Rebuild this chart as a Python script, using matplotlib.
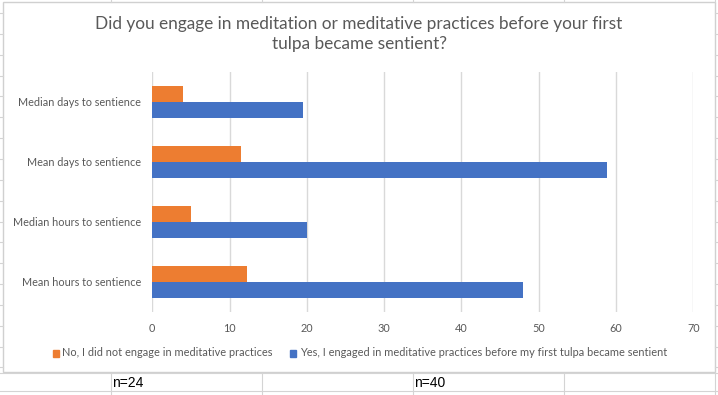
import matplotlib
matplotlib.use("Agg")
import matplotlib.pyplot as plt
from matplotlib.patches import Rectangle
from matplotlib.lines import Line2D

categories = ["Median days to sentience", "Mean days to sentience",
              "Median hours to sentience", "Mean hours to sentience"]
no_values = [4, 11.5, 5, 12.25]
yes_values = [19.5, 58.8, 20, 48]
series_names = ["No, I did not engage in meditative practices",
                "Yes, I engaged in meditative practices before my first tulpa became sentient"]
x_ticks = [0, 10, 20, 30, 40, 50, 60, 70]
title = "Did you engage in meditation or meditative practices before your first\ntulpa became sentient?"
cell_notes = ["n=24", "n=40"]

W, H = 718, 395
plt.rcParams['font.family'] = ['Lato', 'DejaVu Sans']
fig = plt.figure(figsize=(W / 100, H / 100), dpi=100)
fig.patch.set_facecolor("white")

def fx(px):
    return px / W

def fy(py):
    return 1 - py / H

# Spreadsheet background grid lines (outside chart)
grid_c = "#d4d4d4"
row_ys = [13 + 20.85 * k for k in range(18)]
for y in row_ys:
    fig.add_artist(Line2D([0, fx(3)], [fy(y), fy(y)], color=grid_c, lw=0.8))
    fig.add_artist(Line2D([fx(715), 1], [fy(y), fy(y)], color=grid_c, lw=0.8))
for y in [373, 391]:
    fig.add_artist(Line2D([0, 1], [fy(y), fy(y)], color=grid_c, lw=0.8))
for x in [110.5, 262, 412.5, 563.5, 715]:
    fig.add_artist(Line2D([fx(x), fx(x)], [fy(373), 0], color=grid_c, lw=0.8))
    fig.add_artist(Line2D([fx(x), fx(x)], [1, fy(1.5)], color=grid_c, lw=0.8))

# Chart border
fig.add_artist(Rectangle((fx(3), fy(372)), fx(712), 370 / H, fill=False,
                         edgecolor="#d0d0d0", lw=1.0))

# Axes
left, right, top, bottom = 152.3, 693.4, 72, 312
ax = fig.add_axes([fx(left), fy(bottom), fx(right - left), (bottom - top) / H])
n = len(categories)
pos = list(range(n))
h = 16 / 60
ax.barh([p - h / 2 for p in pos], no_values, height=h, color="#ed7d31", zorder=3)
ax.barh([p + h / 2 for p in pos], yes_values, height=h, color="#4472c4", zorder=3)
ax.set_ylim(n - 0.5, -0.5)
ax.set_xlim(0, 70)
ax.set_xticks(x_ticks)
ax.set_yticks(pos)
ax.set_yticklabels(categories)
ax.grid(axis="x", color="#d9d9d9", lw=1.0, zorder=0)
ax.set_axisbelow(True)
for s in ax.spines.values():
    s.set_visible(False)
ax.tick_params(axis="both", length=0, labelsize=7.8, labelcolor="#595959")
ax.tick_params(axis="y", pad=8)
ax.tick_params(axis="x", pad=8)

# Title
fig.text(fx(359), fy(34), title, ha="center", va="center", fontsize=12.4,
         color="#595959", linespacing=1.3)

# Legend (manual)
ly = 353
fig.add_artist(Rectangle((fx(53), fy(ly + 3.5)), fx(6), 7 / H, color="#ed7d31"))
fig.text(fx(62), fy(ly), series_names[0], ha="left", va="center", fontsize=7.9, color="#595959")
fig.add_artist(Rectangle((fx(290), fy(ly + 3.5)), fx(6), 7 / H, color="#4472c4"))
fig.text(fx(300), fy(ly), series_names[1], ha="left", va="center", fontsize=7.9, color="#595959")

# Cell notes
fig.text(fx(112), fy(383), cell_notes[0], ha="left", va="center", fontsize=10, color="black",
         family=["Liberation Sans", "DejaVu Sans"])
fig.text(fx(414), fy(383), cell_notes[1], ha="left", va="center", fontsize=10, color="black",
         family=["Liberation Sans", "DejaVu Sans"])

fig.savefig("out.png", dpi=100, facecolor="white")
